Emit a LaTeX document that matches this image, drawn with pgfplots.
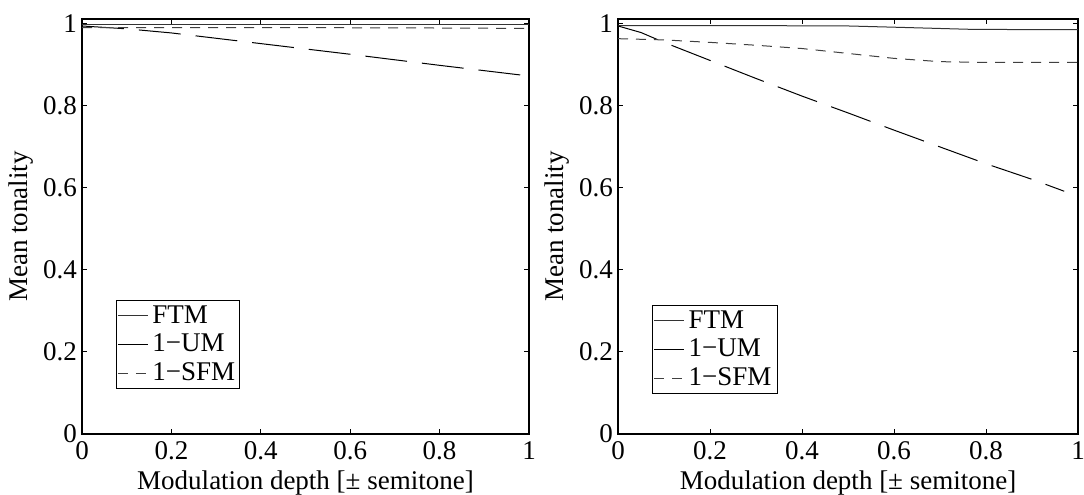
\documentclass[border=0pt]{standalone}
\usepackage{fontspec}
\setmainfont{Liberation Serif}
\usepackage{pgfplots}
\pgfplotsset{compat=1.18}
\pgfplotsset{
  myaxis/.style={
    scale only axis,
    anchor=south west,
    xmin=0, xmax=1, ymin=0, ymax=1.012,
    xtick={0,0.2,0.4,0.6,0.8,1},
    ytick={0,0.2,0.4,0.6,0.8,1},
    xticklabels={0,0.2,0.4,0.6,0.8,1},
    yticklabels={0,0.2,0.4,0.6,0.8,1},
    tick align=inside,
    major tick length=2.5bp,
    axis line style={line width=0.6bp},
    every tick/.style={black, line width=0.5bp},
    font=\fontsize{13.5bp}{15bp}\selectfont,
    tick label style={font=\fontsize{13.5bp}{15bp}\selectfont},
    label style={font=\fontsize{13.5bp}{15bp}\selectfont},
    xlabel={Modulation depth [± semitone]},
    ylabel={Mean tonality},
    xlabel style={yshift=1.5bp},
    ylabel style={yshift=-2bp},
    xticklabel style={yshift=-0.5bp},
    yticklabel style={xshift=1bp},
    legend cell align=left,
    legend style={font=\fontsize{13.5bp}{15bp}\selectfont, draw=black, line width=0.5bp,
      inner sep=0.5bp, row sep=0bp, anchor=south west},
    legend image code/.code={\draw[#1] (0bp,0bp) -- (15bp,0bp);},
  },
  ftm/.style={black!80, line width=0.5bp},
  um/.style={black, line width=0.5bp, dash pattern=on 21bp off 7.5bp},
  sfm/.style={black!75, line width=0.5bp, dash pattern=on 5bp off 4bp},
}
\begin{document}
\begin{tikzpicture}
\path[use as bounding box] (0,0) rectangle (542bp,247.5bp);
\begin{axis}[myaxis, at={(41bp,30.5bp)}, width=223.5bp, height=207.5bp,
  legend style={at={(0.076,0.108)}, text width=41bp}]
\addlegendimage{ftm}
\addlegendentry{FTM}
\addlegendimage{black, line width=0.5bp}
\addlegendentry{1−UM}
\addlegendimage{sfm}
\addlegendentry{1−SFM}
\addplot[ftm, forget plot] coordinates {(0,0.998) (0.5,0.998) (1,0.998)};
\addplot[um, forget plot] coordinates {(0,0.995) (0.1,0.988) (0.2,0.978) (0.4,0.952) (0.6,0.926) (0.8,0.899) (1,0.873)};
\addplot[sfm, forget plot] coordinates {(0,0.991) (0.5,0.991) (0.8,0.990) (1,0.989)};
\end{axis}
\begin{axis}[myaxis, at={(309bp,30.5bp)}, width=230bp, height=207.5bp,
  legend style={at={(0.074,0.096)}, text width=42bp}]
\addlegendimage{ftm}
\addlegendentry{FTM}
\addlegendimage{black, line width=0.5bp}
\addlegendentry{1−UM}
\addlegendimage{sfm}
\addlegendentry{1−SFM}
\addplot[ftm, forget plot] coordinates {(0,0.996) (0.25,0.996) (0.5,0.995) (0.6,0.992) (0.76,0.987) (0.9,0.986) (1,0.986)};
\addplot[um, forget plot] coordinates {(0,0.995) (0.05,0.979) (0.1,0.955) (0.2,0.911) (0.3,0.867) (0.4,0.824) (0.5,0.783) (0.6,0.741) (0.7,0.700) (0.8,0.659) (0.9,0.621) (0.97,0.592)};
\addplot[sfm, forget plot] coordinates {(0,0.964) (0.1,0.961) (0.2,0.955) (0.3,0.948) (0.4,0.940) (0.5,0.928) (0.6,0.916) (0.7,0.908) (0.8,0.906) (1,0.906)};
\end{axis}
\end{tikzpicture}
\end{document}
